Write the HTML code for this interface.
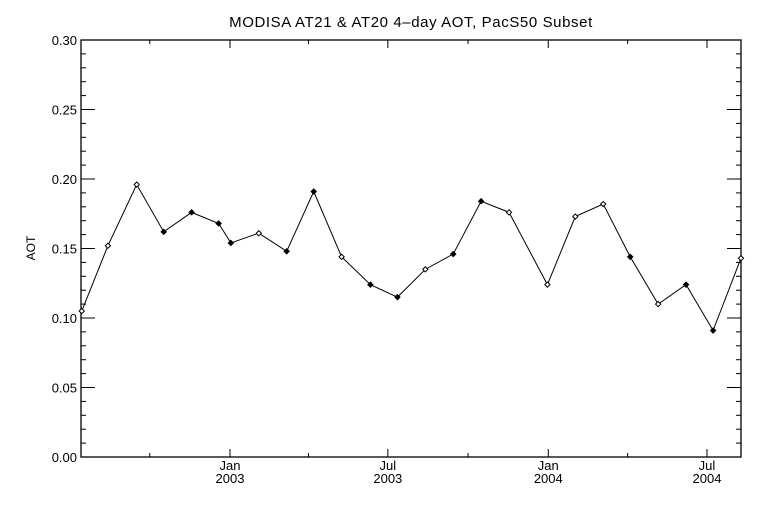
<!DOCTYPE html>
<html><head><meta charset="utf-8"><style>
html,body{margin:0;padding:0;background:#fff;}
svg{display:block;font-family:"Liberation Sans",sans-serif;}
</style></head><body>
<svg id="chart" width="768" height="512" viewBox="0 0 768 512" xmlns="http://www.w3.org/2000/svg">
<rect width="768" height="512" fill="#fff"/>
<text x="411" y="27" font-size="15" letter-spacing="0.6" text-anchor="middle" fill="#000">MODISA AT21 &amp; AT20 4–day AOT, PacS50 Subset</text>
<text transform="translate(35,248) rotate(-90)" font-size="12" text-anchor="middle" fill="#000">AOT</text>
<g id="axes"></g>
<g id="series"></g>
</svg>
<script>
// days since 2003-01-01
const dayOffsets = [-170,-140,-107,-76,-44,-13,1,33,65,96,128,161,192,224,256,288,320,364,396,428,459,491,523,554,586];
const aotValues = [0.105,0.152,0.196,0.162,0.176,0.168,0.154,0.161,0.148,0.191,0.144,0.124,0.115,0.135,0.146,0.184,0.176,0.124,0.173,0.182,0.144,0.110,0.124,0.091,0.143];
const filledFlags = [0,0,0,1,1,1,1,0,1,1,0,1,1,0,1,1,0,0,0,0,1,0,1,1,0];
const yTickLabels = ["0.00","0.05","0.10","0.15","0.20","0.25","0.30"];
const xMajorDays = [0,181,365,547];
const xMajorMonth = ["Jan","Jul","Jan","Jul"];
const xMajorYear = ["2003","2003","2004","2004"];
const xMinorDays = [-92,90,273,456];

const L=81,R=741,T=40,B=457;
const xScale=d=>230+d*0.872;
const yScale=v=>B-v*(B-T)/0.3;
const NS="http://www.w3.org/2000/svg";
function mk(tag,attrs,parent){const e=document.createElementNS(NS,tag);for(const k in attrs)e.setAttribute(k,attrs[k]);parent.appendChild(e);return e;}
const axes=document.getElementById('axes');
const frame=mk('rect',{x:L,y:T,width:R-L,height:B-T,fill:'none',stroke:'#000','stroke-width':1.3},axes);


for(let i=0;i<=30;i++){
  const v=i*0.01,y=yScale(v),len=(i%5===0)?14:5;
  const t1=mk('line',{x1:L,x2:L+len,y1:y,y2:y,stroke:'#000'},axes);
  
  
  const t2=mk('line',{x1:R,x2:R-len,y1:y,y2:y,stroke:'#000'},axes);
  
  
}
yTickLabels.forEach((s,i)=>{
  const t=mk('text',{x:L-4,y:yScale(parseFloat(s))+5,'font-size':13,'text-anchor':'end',fill:'#000'},axes);
  
  
  t.textContent=s;
});
xMajorDays.forEach((d,i)=>{
  const x=xScale(d);
  const a=mk('line',{x1:x,x2:x,y1:B,y2:B-8,stroke:'#000'},axes);
  
  
  const b=mk('line',{x1:x,x2:x,y1:T,y2:T+8,stroke:'#000'},axes);
  
  
  const m=mk('text',{x:x,y:470,'font-size':13,'text-anchor':'middle',fill:'#000'},axes);
  
  
  m.textContent=xMajorMonth[i];
  const yy=mk('text',{x:x,y:483,'font-size':13,'text-anchor':'middle',fill:'#000'},axes);
  
  
  yy.textContent=xMajorYear[i];
});
xMinorDays.forEach(d=>{
  const x=xScale(d);
  const a=mk('line',{x1:x,x2:x,y1:B,y2:B-4,stroke:'#000'},axes);
  
  
  const b=mk('line',{x1:x,x2:x,y1:T,y2:T+4,stroke:'#000'},axes);
  
  
});
const series=document.getElementById('series');
const pts=dayOffsets.map((d,i)=>[xScale(d),yScale(aotValues[i])]);
const line=mk('polyline',{points:pts.map(p=>p.join(',')).join(' '),fill:'none',stroke:'#000','stroke-width':1},series);


pts.forEach((p,i)=>{
  const [x,y]=p,r=2.6;
  const m=mk('polygon',{points:`${x},${y-r} ${x+r},${y} ${x},${y+r} ${x-r},${y}`,fill:filledFlags[i]?'#000':'#fff',stroke:'#000','stroke-width':1},series);
  
  
});
</script>
</body></html>
